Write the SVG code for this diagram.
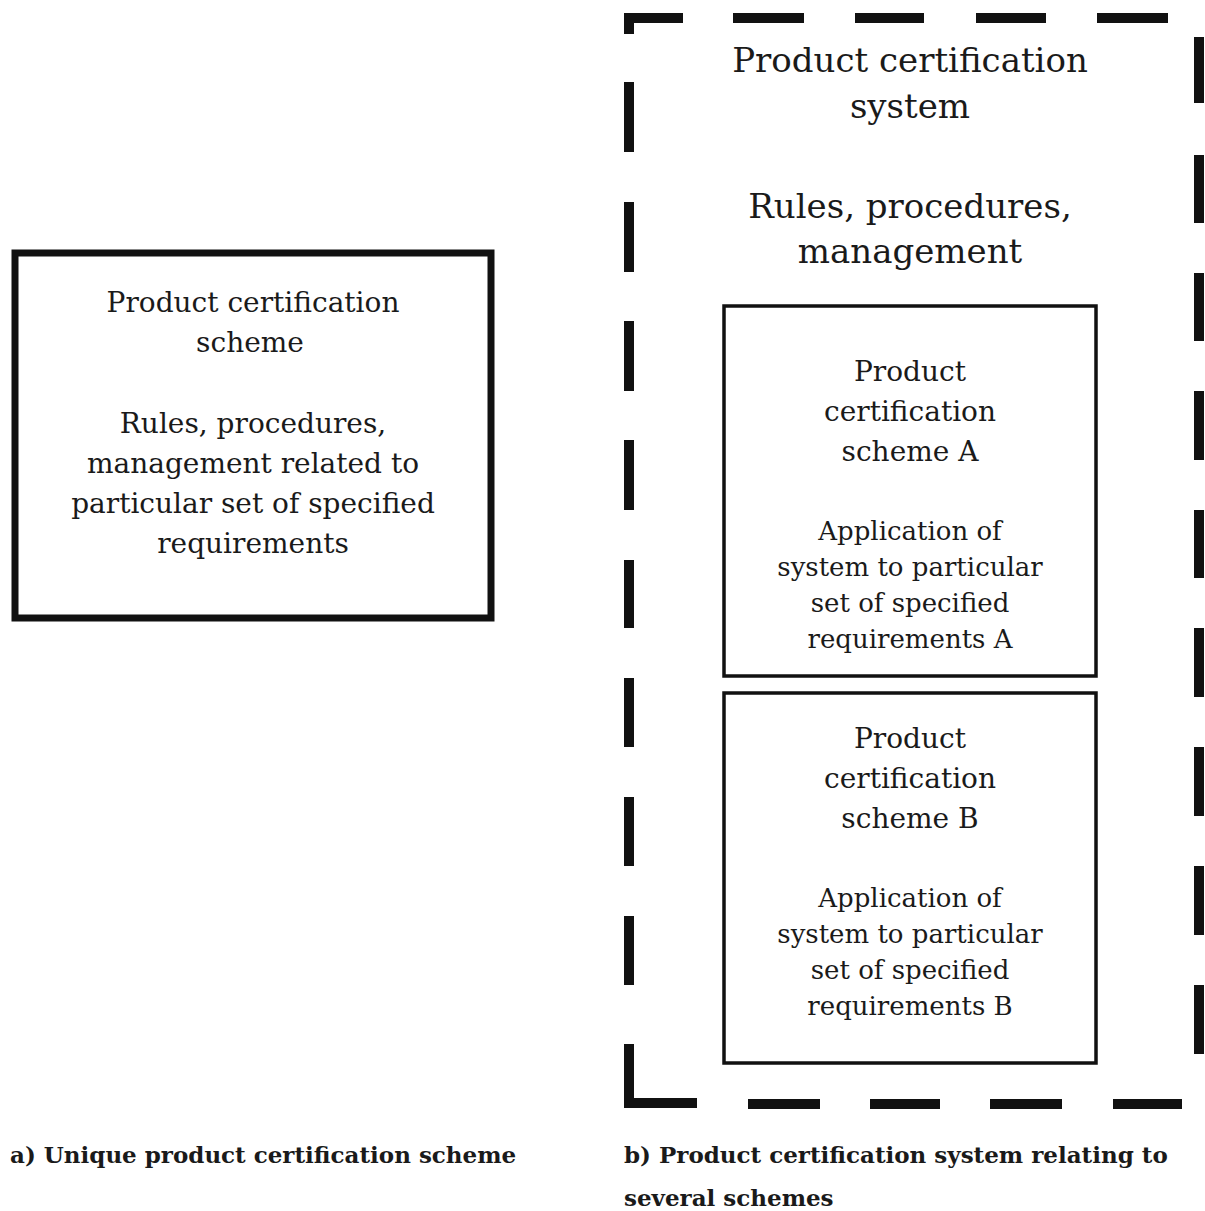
<svg xmlns="http://www.w3.org/2000/svg" width="1205" height="1211" viewBox="0 0 1205 1211">
  <style>
    .t { font-family: "DejaVu Serif", "Liberation Serif", serif; fill: #1a1a1a; text-anchor: middle; }
    .cap { font-family: "DejaVu Serif", "Liberation Serif", serif; font-weight: bold; fill: #1a1a1a; font-size: 23px; }
    .dash { stroke: #111; stroke-width: 10; fill: none; }
    .box { fill: none; stroke: #111; }
  </style>
  <rect width="1205" height="1211" fill="#ffffff"/>

  <!-- a) single scheme -->
  <g id="unique-scheme">
    <rect class="box" x="15" y="253" width="476" height="365" stroke-width="7"/>
    <text class="t" x="253" y="312" font-size="28">Product certification</text>
    <text class="t" x="250" y="352" font-size="28">scheme</text>
    <text class="t" x="253" y="433" font-size="28">Rules, procedures,</text>
    <text class="t" x="253" y="473" font-size="28">management related to</text>
    <text class="t" x="253" y="513" font-size="28">particular set of specified</text>
    <text class="t" x="253" y="553" font-size="28">requirements</text>
  </g>

  <!-- b) system frame, dashed -->
  <g id="system-frame">
    <!-- top edge -->
    <path class="dash" d="M629,34 V18 H683"/>
    <line class="dash" x1="733" y1="18" x2="804" y2="18"/>
    <line class="dash" x1="855" y1="18" x2="924" y2="18"/>
    <line class="dash" x1="976" y1="18" x2="1046" y2="18"/>
    <line class="dash" x1="1097" y1="18" x2="1168" y2="18"/>
    <!-- left edge -->
    <line class="dash" x1="629" y1="82" x2="629" y2="152"/>
    <line class="dash" x1="629" y1="202" x2="629" y2="272"/>
    <line class="dash" x1="629" y1="321" x2="629" y2="391"/>
    <line class="dash" x1="629" y1="440" x2="629" y2="510"/>
    <line class="dash" x1="629" y1="560" x2="629" y2="628"/>
    <line class="dash" x1="629" y1="678" x2="629" y2="747"/>
    <line class="dash" x1="629" y1="797" x2="629" y2="866"/>
    <line class="dash" x1="629" y1="916" x2="629" y2="985"/>
    <path class="dash" d="M629,1044 V1103 H697"/>
    <!-- bottom edge -->
    <line class="dash" x1="748" y1="1104" x2="820" y2="1104"/>
    <line class="dash" x1="870" y1="1104" x2="940" y2="1104"/>
    <line class="dash" x1="990" y1="1104" x2="1062" y2="1104"/>
    <line class="dash" x1="1113" y1="1104" x2="1182" y2="1104"/>
    <!-- right edge -->
    <line class="dash" x1="1199" y1="37" x2="1199" y2="103"/>
    <line class="dash" x1="1199" y1="155" x2="1199" y2="223"/>
    <line class="dash" x1="1199" y1="273" x2="1199" y2="341"/>
    <line class="dash" x1="1199" y1="391" x2="1199" y2="460"/>
    <line class="dash" x1="1199" y1="510" x2="1199" y2="578"/>
    <line class="dash" x1="1199" y1="628" x2="1199" y2="697"/>
    <line class="dash" x1="1199" y1="747" x2="1199" y2="816"/>
    <line class="dash" x1="1199" y1="866" x2="1199" y2="935"/>
    <line class="dash" x1="1199" y1="985" x2="1199" y2="1054"/>
    <text class="t" x="910" y="72" font-size="34">Product certification</text>
    <text class="t" x="910" y="118" font-size="34">system</text>
    <text class="t" x="910" y="218" font-size="34">Rules, procedures,</text>
    <text class="t" x="910" y="263" font-size="34">management</text>
  </g>

  <g id="scheme-a">
    <rect class="box" x="724" y="306" width="372" height="370" stroke-width="3.5"/>
    <text class="t" x="910" y="381" font-size="28">Product</text>
    <text class="t" x="910" y="421" font-size="28">certification</text>
    <text class="t" x="910" y="461" font-size="28">scheme A</text>
    <text class="t" x="910" y="540" font-size="26">Application of</text>
    <text class="t" x="910" y="576" font-size="26">system to particular</text>
    <text class="t" x="910" y="612" font-size="26">set of specified</text>
    <text class="t" x="910" y="648" font-size="26">requirements A</text>
  </g>

  <g id="scheme-b">
    <rect class="box" x="724" y="693" width="372" height="370" stroke-width="3.5"/>
    <text class="t" x="910" y="748" font-size="28">Product</text>
    <text class="t" x="910" y="788" font-size="28">certification</text>
    <text class="t" x="910" y="828" font-size="28">scheme B</text>
    <text class="t" x="910" y="907" font-size="26">Application of</text>
    <text class="t" x="910" y="943" font-size="26">system to particular</text>
    <text class="t" x="910" y="979" font-size="26">set of specified</text>
    <text class="t" x="910" y="1015" font-size="26">requirements B</text>
  </g>

  <g id="connectors"></g>

  <!-- captions -->
  <text class="cap" x="10" y="1163">a) Unique product certification scheme</text>
  <text class="cap" x="624" y="1163">b) Product certification system relating to</text>
  <text class="cap" x="624" y="1206">several schemes</text>
</svg>
